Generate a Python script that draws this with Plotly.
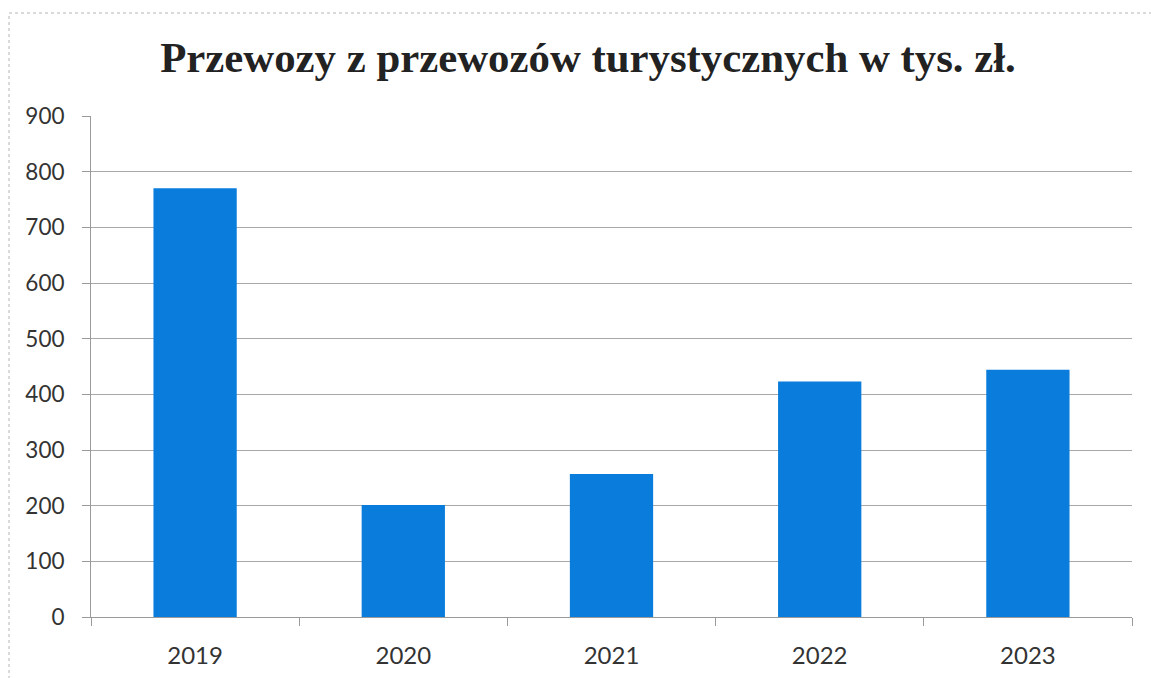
import plotly.graph_objects as go

years = ["2019", "2020", "2021", "2022", "2023"]
values = [770, 201, 257, 423, 444]
y_ticks = [0, 100, 200, 300, 400, 500, 600, 700, 800, 900]

title_text = "Przewozy z przewozów turystycznych w tys. zł."

W, H = 1151, 678
ml, mr, mt, mb = 91, 19, 116, 61
pw, ph = W - ml - mr, H - mt - mb

def px_x(p):
    return (p - ml) / pw

def px_y(p):
    return (H - mb - p) / ph

fig = go.Figure()
fig.add_trace(go.Bar(
    x=years, y=values,
    marker=dict(color="#0a7ddc", line=dict(width=0)),
    width=0.4,
))

fig.update_layout(
    width=W, height=H,
    margin=dict(l=ml, r=mr, t=mt, b=mb, autoexpand=False),
    paper_bgcolor="white", plot_bgcolor="white",
    showlegend=False,
    title=dict(
        text="<b>" + title_text + "</b>",
        font=dict(family="Liberation Serif", size=42.8, color="#222222"),
        x=588 / W, xanchor="center", xref="container",
        y=1 - 57 / H, yanchor="middle", yref="container",
    ),
    bargap=0.6,
)

fig.update_xaxes(
    type="category",
    automargin=False,
    showline=True, linecolor="#9a9a9a", linewidth=1,
    ticks="outside", ticklen=8, tickcolor="#9a9a9a",
    tickson="boundaries",
    showgrid=False,
    tickfont=dict(family="Lato", size=24, color="#333333"),
    ticklabelstandoff=17,
)
fig.update_yaxes(
    range=[0, 900],
    automargin=False,
    tickmode="array", tickvals=y_ticks, ticktext=[str(v) for v in y_ticks],
    showline=True, linecolor="#9a9a9a", linewidth=1,
    ticks="outside", ticklen=8, tickcolor="#9a9a9a",
    showgrid=True, gridcolor="#a8a8a8", gridwidth=1,
    zeroline=False,
    tickfont=dict(family="Lato", size=22.5, color="#333333"),
    ticklabelstandoff=13,
    fixedrange=True,
)

# outer chart border (dotted gray)
fig.add_shape(
    type="rect", xref="paper", yref="paper",
    x0=px_x(9), x1=px_x(1160), y0=px_y(690), y1=px_y(13),
    line=dict(color="#b5b5b5", width=1, dash="dot"),
    fillcolor="rgba(0,0,0,0)", layer="below",
)

fig.write_html("out.html")
